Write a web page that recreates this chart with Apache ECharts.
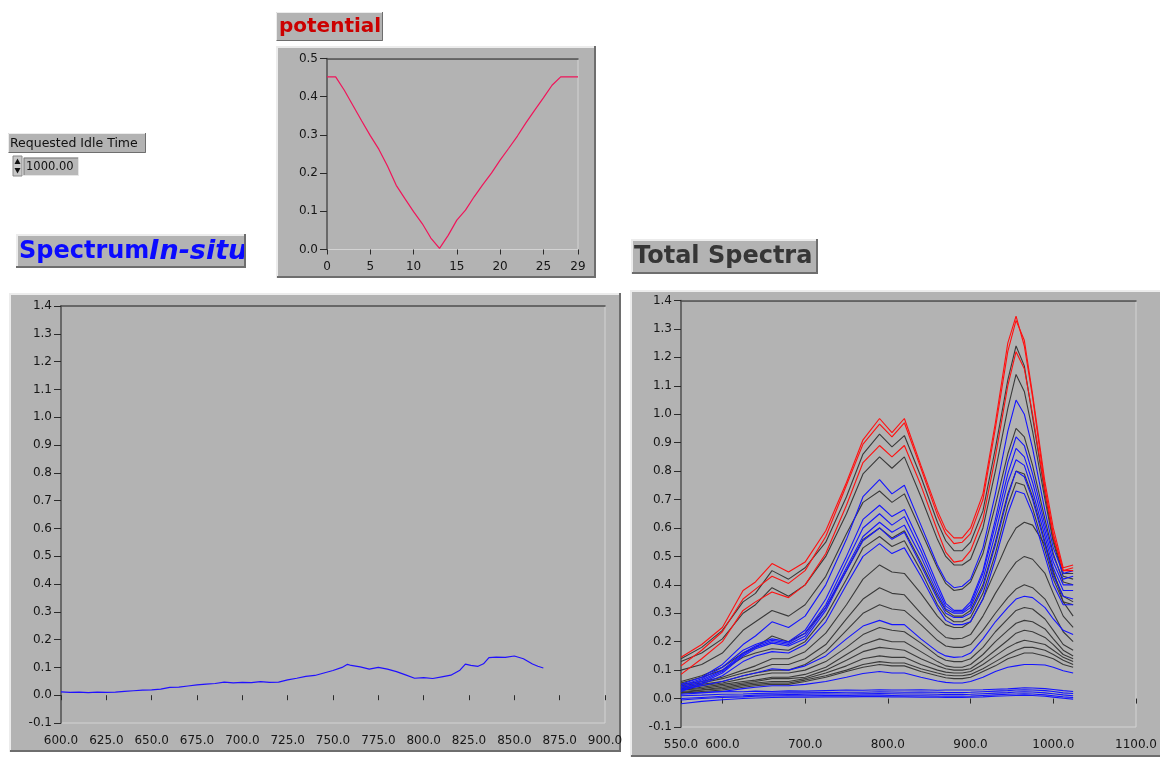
<!DOCTYPE html>
<html>
<head>
<meta charset="utf-8">
<title>Spectro-electrochemistry panel</title>
<script src="https://cdn.jsdelivr.net/npm/echarts@6/dist/echarts.min.js"></script>
<style>
  html, body { margin: 0; padding: 0; background: #ffffff; }
  #panel { width: 1160px; height: 762px; }
</style>
</head>
<body>
<div id="panel"></div>
<script>
// ---------- potential waveform (step index -> volts) ----------
const potentialSteps = [0,1,2,3,4,5,6,7,8,9,10,11,12,13,14,15,16,17,18,19,20,21,22,23,24,25,26,27,28,29];
const potentialValues = [0.452,0.452,0.417,0.377,0.337,0.298,0.262,0.218,0.168,0.133,0.099,0.068,0.030,0.003,0.037,0.077,0.103,0.138,0.170,0.200,0.234,0.265,0.297,0.332,0.365,0.397,0.430,0.452,0.452,0.452];
const potentialTicks = [0,5,10,15,20,25,29];

// ---------- current in-situ spectrum ----------
const insituWavelengths = [600,605,610,615,620,625,630,635,640,645,650,655,660,665,670,675,680,685,690,695,700,705,710,715,720,725,730,735,740,745,750,755,758,760,765,770,775,780,785,790,795,800,805,810,815,820,823,826,830,833,836,840,845,850,855,860,863,866];
const insituAbsorbance = [0.012,0.010,0.011,0.009,0.011,0.010,0.011,0.014,0.016,0.018,0.019,0.022,0.028,0.029,0.033,0.037,0.040,0.042,0.047,0.044,0.046,0.045,0.049,0.046,0.047,0.055,0.061,0.068,0.071,0.080,0.089,0.100,0.111,0.107,0.102,0.094,0.100,0.094,0.085,0.073,0.061,0.063,0.060,0.066,0.072,0.090,0.112,0.107,0.104,0.113,0.135,0.137,0.136,0.141,0.131,0.112,0.104,0.098];

// ---------- accumulated spectra (shared wavelength grid) ----------
const spectraWavelengths = [550,575,600,625,640,660,680,700,725,750,770,790,805,820,840,860,870,880,890,900,915,930,945,955,965,975,990,1000,1012,1024];

const red1 = [0.145,0.19,0.25,0.38,0.41,0.475,0.445,0.48,0.59,0.76,0.91,0.985,0.935,0.985,0.82,0.66,0.595,0.565,0.565,0.60,0.72,0.97,1.25,1.345,1.24,1.06,0.74,0.58,0.45,0.46];
const red2 = [0.115,0.17,0.235,0.35,0.385,0.43,0.405,0.45,0.57,0.75,0.895,0.965,0.92,0.97,0.81,0.645,0.58,0.545,0.55,0.58,0.70,0.95,1.22,1.33,1.26,1.07,0.76,0.60,0.46,0.47];
const red3 = [0.085,0.14,0.20,0.31,0.34,0.375,0.355,0.40,0.51,0.68,0.83,0.89,0.85,0.89,0.75,0.59,0.515,0.48,0.485,0.52,0.63,0.85,1.10,1.22,1.16,1.00,0.73,0.57,0.45,0.45];

const gray1 = [0.14,0.18,0.24,0.34,0.37,0.45,0.42,0.46,0.55,0.71,0.86,0.93,0.885,0.925,0.78,0.62,0.555,0.52,0.52,0.55,0.66,0.88,1.12,1.24,1.17,0.99,0.72,0.56,0.44,0.44];
const gray2 = [0.13,0.16,0.21,0.30,0.33,0.39,0.36,0.40,0.50,0.65,0.79,0.85,0.81,0.85,0.71,0.56,0.50,0.47,0.47,0.49,0.60,0.80,1.02,1.14,1.08,0.94,0.70,0.55,0.43,0.42];
const gray3 = [0.10,0.12,0.16,0.24,0.27,0.31,0.29,0.33,0.43,0.58,0.69,0.73,0.69,0.72,0.59,0.46,0.405,0.38,0.385,0.41,0.51,0.68,0.86,0.95,0.92,0.82,0.63,0.51,0.41,0.40];
const gray4 = [0.06,0.08,0.11,0.16,0.18,0.22,0.20,0.23,0.32,0.45,0.56,0.60,0.565,0.59,0.48,0.36,0.31,0.29,0.29,0.31,0.40,0.55,0.72,0.80,0.79,0.71,0.55,0.44,0.36,0.34];
const gray5 = [0.055,0.075,0.10,0.145,0.16,0.175,0.17,0.20,0.29,0.42,0.53,0.57,0.535,0.555,0.45,0.33,0.29,0.27,0.27,0.285,0.37,0.51,0.68,0.76,0.75,0.67,0.52,0.42,0.34,0.33];
const gray6 = [0.05,0.06,0.075,0.10,0.115,0.14,0.14,0.165,0.23,0.33,0.42,0.47,0.445,0.44,0.37,0.29,0.26,0.25,0.25,0.27,0.35,0.45,0.55,0.60,0.62,0.61,0.54,0.45,0.34,0.29];
const gray7 = [0.045,0.055,0.07,0.09,0.10,0.12,0.12,0.14,0.19,0.28,0.35,0.39,0.37,0.365,0.30,0.24,0.215,0.21,0.212,0.225,0.29,0.37,0.44,0.48,0.50,0.49,0.44,0.37,0.29,0.25];
const gray8 = [0.04,0.05,0.06,0.08,0.09,0.10,0.10,0.12,0.165,0.24,0.30,0.33,0.315,0.31,0.26,0.205,0.185,0.18,0.18,0.19,0.24,0.30,0.355,0.385,0.40,0.39,0.35,0.30,0.235,0.20];
const gray9 = [0.035,0.045,0.055,0.07,0.08,0.09,0.09,0.10,0.13,0.18,0.225,0.25,0.24,0.235,0.195,0.15,0.135,0.13,0.13,0.14,0.18,0.235,0.28,0.31,0.32,0.315,0.28,0.24,0.19,0.17];
const gray10 = [0.03,0.04,0.05,0.06,0.065,0.075,0.075,0.085,0.11,0.155,0.19,0.21,0.20,0.20,0.165,0.13,0.115,0.11,0.11,0.12,0.155,0.20,0.24,0.265,0.275,0.27,0.245,0.21,0.17,0.15];
const gray11 = [0.03,0.035,0.045,0.055,0.06,0.07,0.07,0.075,0.10,0.135,0.165,0.18,0.175,0.17,0.14,0.115,0.105,0.10,0.10,0.105,0.135,0.17,0.205,0.23,0.24,0.235,0.215,0.19,0.155,0.14];
const gray12 = [0.025,0.03,0.04,0.05,0.055,0.06,0.06,0.07,0.09,0.115,0.14,0.15,0.145,0.145,0.12,0.10,0.093,0.09,0.09,0.095,0.12,0.15,0.18,0.195,0.205,0.20,0.19,0.17,0.145,0.13];
const gray13 = [0.02,0.03,0.035,0.045,0.05,0.055,0.055,0.065,0.08,0.10,0.12,0.13,0.125,0.125,0.105,0.09,0.083,0.08,0.08,0.085,0.105,0.13,0.155,0.17,0.18,0.18,0.17,0.155,0.135,0.12];
const gray14 = [0.02,0.025,0.03,0.04,0.045,0.05,0.05,0.06,0.075,0.095,0.11,0.12,0.115,0.115,0.095,0.08,0.073,0.07,0.07,0.075,0.095,0.115,0.14,0.15,0.16,0.16,0.15,0.14,0.12,0.11];

const blue1 = [0.05,0.075,0.12,0.19,0.22,0.27,0.25,0.29,0.40,0.56,0.71,0.77,0.72,0.75,0.61,0.47,0.415,0.39,0.395,0.42,0.53,0.72,0.94,1.05,1.00,0.88,0.66,0.53,0.44,0.45];
const blue2 = [0.045,0.07,0.11,0.17,0.19,0.21,0.20,0.24,0.35,0.50,0.63,0.68,0.64,0.665,0.54,0.40,0.335,0.31,0.31,0.34,0.45,0.63,0.83,0.92,0.89,0.79,0.61,0.50,0.42,0.43];
const blue3 = [0.04,0.065,0.10,0.16,0.185,0.205,0.195,0.23,0.33,0.48,0.60,0.65,0.61,0.64,0.52,0.385,0.325,0.305,0.305,0.33,0.44,0.61,0.79,0.88,0.85,0.76,0.59,0.48,0.40,0.40];
const blue4 = [0.035,0.06,0.095,0.155,0.18,0.20,0.19,0.22,0.32,0.46,0.57,0.62,0.585,0.61,0.50,0.37,0.315,0.30,0.30,0.32,0.42,0.58,0.76,0.84,0.82,0.73,0.57,0.46,0.38,0.38];
const blue5 = [0.03,0.055,0.09,0.15,0.175,0.195,0.185,0.21,0.31,0.45,0.555,0.60,0.56,0.585,0.47,0.35,0.30,0.285,0.285,0.30,0.39,0.54,0.71,0.80,0.78,0.70,0.54,0.43,0.36,0.35];
const blue6 = [0.025,0.05,0.08,0.13,0.15,0.165,0.16,0.19,0.27,0.40,0.50,0.545,0.51,0.53,0.43,0.32,0.275,0.26,0.26,0.27,0.35,0.49,0.65,0.73,0.72,0.65,0.50,0.40,0.33,0.33];
const blue7 = [0.03,0.045,0.06,0.08,0.09,0.105,0.10,0.115,0.15,0.21,0.255,0.275,0.26,0.26,0.21,0.165,0.15,0.145,0.147,0.16,0.21,0.27,0.32,0.35,0.36,0.355,0.32,0.28,0.24,0.225];
const blue8 = [0.015,0.02,0.025,0.035,0.04,0.045,0.045,0.05,0.06,0.075,0.088,0.095,0.09,0.09,0.075,0.062,0.057,0.055,0.055,0.06,0.075,0.095,0.11,0.115,0.12,0.12,0.118,0.11,0.098,0.09];

const baseline1 = [0.020,0.022,0.025,0.024,0.026,0.025,0.027,0.026,0.028,0.030,0.029,0.031,0.030,0.030,0.031,0.029,0.030,0.030,0.030,0.030,0.031,0.033,0.034,0.036,0.038,0.037,0.035,0.032,0.028,0.025];
const baseline2 = [0.010,0.012,0.015,0.016,0.018,0.019,0.020,0.020,0.021,0.022,0.022,0.024,0.023,0.022,0.023,0.022,0.021,0.021,0.021,0.022,0.024,0.026,0.028,0.030,0.031,0.030,0.028,0.025,0.020,0.018];
const baseline3 = [0.000,0.004,0.008,0.010,0.012,0.013,0.014,0.015,0.016,0.016,0.017,0.018,0.017,0.016,0.016,0.015,0.014,0.014,0.014,0.015,0.017,0.019,0.021,0.023,0.024,0.023,0.020,0.017,0.013,0.010];
const baseline4 = [-0.005,0.000,0.004,0.006,0.008,0.009,0.010,0.010,0.011,0.011,0.012,0.012,0.011,0.010,0.010,0.009,0.008,0.008,0.008,0.009,0.011,0.013,0.015,0.016,0.017,0.016,0.013,0.010,0.006,0.004];
const baseline5 = [-0.018,-0.010,-0.004,0.000,0.002,0.004,0.005,0.005,0.006,0.006,0.007,0.007,0.006,0.006,0.005,0.005,0.004,0.004,0.004,0.005,0.006,0.008,0.010,0.011,0.012,0.011,0.008,0.005,0.001,-0.002];

const baselineSpectra = [baseline1, baseline2, baseline3, baseline4, baseline5];
const graySpectra = [gray1, gray2, gray3, gray4, gray5, gray6, gray7, gray8, gray9, gray10, gray11, gray12, gray13, gray14];
const blueSpectra = [blue1, blue2, blue3, blue4, blue5, blue6, blue7, blue8];
const redSpectra = [red1, red2, red3];

const spectraTicks = [550, 600, 700, 800, 900, 1000, 1100];

// ---------- styling ----------
const PANEL = '#b3b3b3';
const LIGHT = '#ececec';
const DARK = '#6e6e6e';
const AXIS_DARK = '#4a4a4a';
const LABEL = '#161616';
const FONT = 'DejaVu Sans';

const pairs = (xs, ys) => xs.map((x, i) => [x, ys[i]]);
const oneDecimal = v => (Math.abs(v) < 1e-9 ? 0 : v).toFixed(1);

function bevel(x, y, w, h, z, lw) {
  lw = lw || 2;
  const o = lw / 2;
  return [
    { type: 'rect', z, shape: { x, y, width: w, height: h }, style: { fill: PANEL } },
    { type: 'polyline', z, shape: { points: [[x + o, y + h], [x + o, y + o], [x + w, y + o]] },
      style: { stroke: LIGHT, lineWidth: lw, fill: null } },
    { type: 'polyline', z, shape: { points: [[x + o, y + h - o], [x + w - o, y + h - o], [x + w - o, y]] },
      style: { stroke: DARK, lineWidth: lw, fill: null } }
  ];
}

function yAxis(gridIndex, min, max) {
  return {
    type: 'value', gridIndex, min, max, interval: 0.1, position: 'left',
    axisLine: { show: true, lineStyle: { color: AXIS_DARK, width: 1.5 } },
    axisTick: { show: true, length: 7, lineStyle: { color: '#2a2a2a' } },
    axisLabel: { margin: 9, color: LABEL, fontFamily: FONT, fontSize: 12, formatter: oneDecimal },
    splitLine: { show: false }
  };
}

function bottomAxis(gridIndex, min, max, ticks, interval, fmt, margin) {
  const ax = {
    type: 'value', gridIndex, min, max, position: 'bottom', offset: 2,
    axisLine: { show: false },
    axisTick: { show: true, length: 5, lineStyle: { color: '#2a2a2a' } },
    axisLabel: { margin, color: LABEL, fontFamily: FONT, fontSize: 12, formatter: fmt,
                 showMinLabel: true, showMaxLabel: true, hideOverlap: false },
    splitLine: { show: false }
  };
  if (ticks) { ax.axisTick.customValues = ticks; ax.axisLabel.customValues = ticks; }
  if (interval) ax.interval = interval;
  return ax;
}

function topAxis(gridIndex, min, max) {
  return {
    type: 'value', gridIndex, min, max, position: 'top',
    axisLine: { show: true, lineStyle: { color: AXIS_DARK, width: 1.5 } },
    axisTick: { show: false }, axisLabel: { show: false }, splitLine: { show: false }
  };
}

const gridFrame = { show: true, backgroundColor: 'transparent', borderColor: '#d3d3d3', borderWidth: 1 };

// ---------- series ----------
const series = [];
series.push({
  type: 'line', xAxisIndex: 0, yAxisIndex: 0, data: pairs(potentialSteps, potentialValues),
  symbol: 'none', lineStyle: { color: '#f0145a', width: 1.2 }
});
series.push({
  type: 'line', xAxisIndex: 2, yAxisIndex: 1, data: pairs(insituWavelengths, insituAbsorbance),
  symbol: 'none', lineStyle: { color: '#2010ff', width: 1.2 }
});
const addSpectra = (list, color) => list.forEach(s => series.push({
  type: 'line', xAxisIndex: 4, yAxisIndex: 2, data: pairs(spectraWavelengths, s),
  symbol: 'none', lineStyle: { color, width: 1.1 }
}));
addSpectra(baselineSpectra, '#1414ff');
addSpectra(graySpectra, '#3a3a3a');
addSpectra(blueSpectra, '#1414ff');
addSpectra(redSpectra, '#ff1010');

// ---------- front-panel decorations ----------
const graphics = [].concat(
  bevel(276, 46, 320, 232, -2),
  bevel(9, 293, 612, 459, -2),
  bevel(630, 290, 540, 467, -2),
  // "potential" caption
  bevel(276, 12, 107, 29, -2, 1),
  [{ type: 'text', z: -1, style: { x: 279, y: 27, text: 'potential', fill: '#cc0000',
     font: 'bold 20px "DejaVu Sans"', verticalAlign: 'middle' } }],
  // numeric control caption + value
  bevel(8, 133, 138, 20, -2, 1),
  [{ type: 'text', z: -1, style: { x: 10, y: 143.5, text: 'Requested Idle Time', fill: '#111',
     font: '12.5px "DejaVu Sans"', verticalAlign: 'middle' } }],
  [
    { type: 'rect', z: -1, shape: { x: 13, y: 156, width: 9, height: 20 }, style: { fill: '#c8c8c8', stroke: '#8a8a8a', lineWidth: 1 } },
    { type: 'polygon', z: -1, shape: { points: [[14.5, 164], [20.5, 164], [17.5, 158.5]] }, style: { fill: '#111' } },
    { type: 'polygon', z: -1, shape: { points: [[14.5, 168], [20.5, 168], [17.5, 173.5]] }, style: { fill: '#111' } },
    { type: 'rect', z: -1, shape: { x: 23.5, y: 157.5, width: 55, height: 18 }, style: { fill: '#b8b8b8', stroke: '#e6e6e6', lineWidth: 1 } },
    { type: 'polyline', z: -1, shape: { points: [[24, 175], [24, 158], [78, 158]] }, style: { stroke: '#7a7a7a', lineWidth: 1, fill: null } },
    { type: 'text', z: -1, style: { x: 26, y: 167, text: '1000.00', fill: '#111', font: '11.5px "DejaVu Sans"', verticalAlign: 'middle' } }
  ],
  // "Spectrum In-situ" caption (clipped at its frame)
  bevel(16, 234, 230, 34, -2),
  [
    { type: 'text', z: -1, style: { x: 19, y: 252, text: '{a|Spectrum}{b|In-situ}', verticalAlign: 'middle',
      rich: {
        a: { fill: '#0a0aff', fontFamily: FONT, fontWeight: 'bold', fontSize: 24 },
        b: { fill: '#0a0aff', fontFamily: FONT, fontWeight: 'bold', fontStyle: 'italic', fontSize: 27 }
      } } },
    { type: 'rect', z: 1, shape: { x: 246, y: 230, width: 29, height: 42 }, style: { fill: '#ffffff' } },
    { type: 'polyline', z: 2, shape: { points: [[16, 267], [245, 267], [245, 234]] }, style: { stroke: DARK, lineWidth: 2, fill: null } }
  ],
  // "Total Spectra" caption
  bevel(631, 239, 187, 35, -2),
  [{ type: 'text', z: -1, style: { x: 634, y: 257, text: 'Total Spectra', fill: '#363636',
     font: 'bold 24px "DejaVu Sans"', verticalAlign: 'middle' } }]
);

const chart = echarts.init(document.getElementById('panel'), null, { renderer: 'canvas' });
chart.setOption({
  animation: false,
  backgroundColor: '#ffffff',
  graphic: { elements: graphics },
  grid: [
    Object.assign({ left: 327, top: 58.5, width: 251, height: 191 }, gridFrame),
    Object.assign({ left: 61, top: 306, width: 544, height: 417 }, gridFrame),
    Object.assign({ left: 681, top: 300.5, width: 461, height: 426.5 }, gridFrame)
  ],
  xAxis: [
    bottomAxis(0, 0, 29, potentialTicks, null, v => String(v), 9),
    topAxis(0, 0, 29),
    bottomAxis(1, 600, 900, null, 25, oneDecimal, 10),
    topAxis(1, 600, 900),
    bottomAxis(2, 550, 1100, spectraTicks, null, oneDecimal, 10),
    topAxis(2, 550, 1100)
  ],
  yAxis: [
    yAxis(0, 0, 0.5),
    yAxis(1, -0.1, 1.4),
    yAxis(2, -0.1, 1.4)
  ],
  series
});
</script>
</body>
</html>
